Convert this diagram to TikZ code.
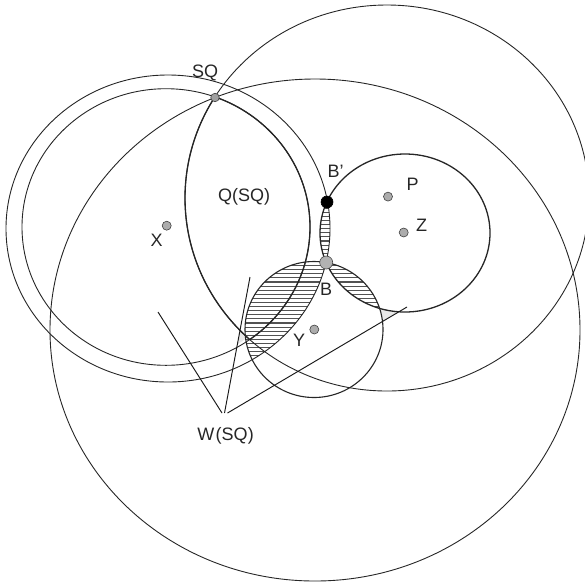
\documentclass[tikz,border=0pt]{standalone}
\usepackage{fontspec}
\setmainfont{Liberation Sans}
\begin{document}
\begin{tikzpicture}[x=1pt,y=-1pt,
  thincurve/.style={line width=0.9pt, draw=black!85},
  boldcurve/.style={line width=1.3pt, draw=black!85},
  wline/.style={line width=0.95pt, draw=black!90},
  hatchline/.style={line width=1.1pt, draw=black!68},
  lightfill/.style={fill=gray!18, draw=none},
  dot/.style={circle, fill=gray!65, draw=black!75, line width=0.6pt, inner sep=0pt, minimum size=9pt},
  lbl/.style={font=\fontsize{18}{20}\selectfont, text=black!85, inner sep=0pt},
]
\useasboundingbox (0,0) rectangle (585,582);
\clip (0,0) rectangle (585,582);

% light grey pockets
\fill[lightfill] (379.3,308) -- (398.5,312) -- (382.4,321.5) -- cycle;
\fill[lightfill] (240,330) -- (247.5,337.5) -- (238,344) -- cycle;

% hatching: outer ring and circle P (lens B'-B)
\begin{scope}
  \clip (168,228.5) ellipse [x radius=162pt, y radius=153.5pt];
  \clip (405,233) ellipse [x radius=85pt, y radius=79pt];
  \foreach \k in {-6,...,41} {
    \pgfmathsetmacro\yy{212.3+4.1*\k}
    \draw[hatchline] (230,\yy) -- (430,\yy);
  }
\end{scope}
% hatching: circle Y and outer ring
\begin{scope}
  \clip (314,329.5) ellipse [x radius=69pt, y radius=68pt];
  \clip (168,228.5) ellipse [x radius=162pt, y radius=153.5pt];
  \foreach \k in {-6,...,41} {
    \pgfmathsetmacro\yy{212.3+4.1*\k}
    \draw[hatchline] (230,\yy) -- (430,\yy);
  }
\end{scope}
% hatching: circle Y and circle P
\begin{scope}
  \clip (314,329.5) ellipse [x radius=69pt, y radius=68pt];
  \clip (405,233) ellipse [x radius=85pt, y radius=79pt];
  \foreach \k in {-6,...,41} {
    \pgfmathsetmacro\yy{212.3+4.1*\k}
    \draw[hatchline] (230,\yy) -- (430,\yy);
  }
\end{scope}

% large curves
\draw[thincurve] (315,330) ellipse [x radius=265pt, y radius=251pt];   % biggest ellipse
\draw[thincurve] (387,198) ellipse [x radius=202pt, y radius=193pt];   % big circle
\draw[thincurve] (168,228.5) ellipse [x radius=162pt, y radius=153.5pt]; % outer ring
\draw[thincurve] (166,227) ellipse [x radius=144pt, y radius=138.3pt];   % inner ring

% bold boundary of Q(SQ)
\begin{scope}
  \clip (166,227) ellipse [x radius=144pt, y radius=138.3pt];
  \draw[boldcurve] (387,198) ellipse [x radius=202pt, y radius=193pt];
\end{scope}
\begin{scope}
  \clip (387,198) ellipse [x radius=202pt, y radius=193pt];
  \draw[boldcurve] (166,227) ellipse [x radius=144pt, y radius=138.3pt];
\end{scope}

% circles P and Y
\draw[boldcurve] (405,233) ellipse [x radius=85pt, y radius=79pt];
\draw[line width=1.1pt, draw=black!85] (314,329.5) ellipse [x radius=69pt, y radius=68pt];

% W(SQ) pointer lines
\coordinate (w1a) at (158,312);
\coordinate (w1b) at (222,413);
\coordinate (w2a) at (250,277);
\coordinate (w2b) at (224.5,413);
\coordinate (w3a) at (227.5,413);
\coordinate (w3b) at (407,307);
\draw[wline] (w1a) -- (w1b);
\draw[wline] (w2a) -- (w2b);
\draw[wline] (w3a) -- (w3b);

% points
\node[dot, minimum size=8.5pt, fill=gray!75] (SQ) at (215,97.5) {};
\node[dot, fill=black, draw=black, minimum size=12pt] (Bp) at (327,202) {};
\node[dot, fill=gray!60, draw=gray!55!black, minimum size=13pt] (B) at (326.2,262.5) {};
\node[dot] (X) at (166.7,225.7) {};
\node[dot] (P) at (388,196.6) {};
\node[dot] (Z) at (403.7,232.5) {};
\node[dot] (Y) at (314.3,329.5) {};

% labels
\node[lbl] (lSQ) at (205,72.5) {SQ};
\node[lbl] (lQ) at (244,196.5) {Q(SQ)};
\node[lbl] (lBp) at (335.5,171) {B’};
\node[lbl] (lB) at (326,289) {B};
\node[lbl] (lY) at (299,340) {Y};
\node[lbl] (lX) at (156.5,240) {X};
\node[lbl] (lP) at (412.5,184) {P};
\node[lbl] (lZ) at (421.7,225.7) {Z};
\node[lbl] (lW) at (225.5,435.5) {W\kern1.5pt(SQ)};
\end{tikzpicture}
\end{document}
